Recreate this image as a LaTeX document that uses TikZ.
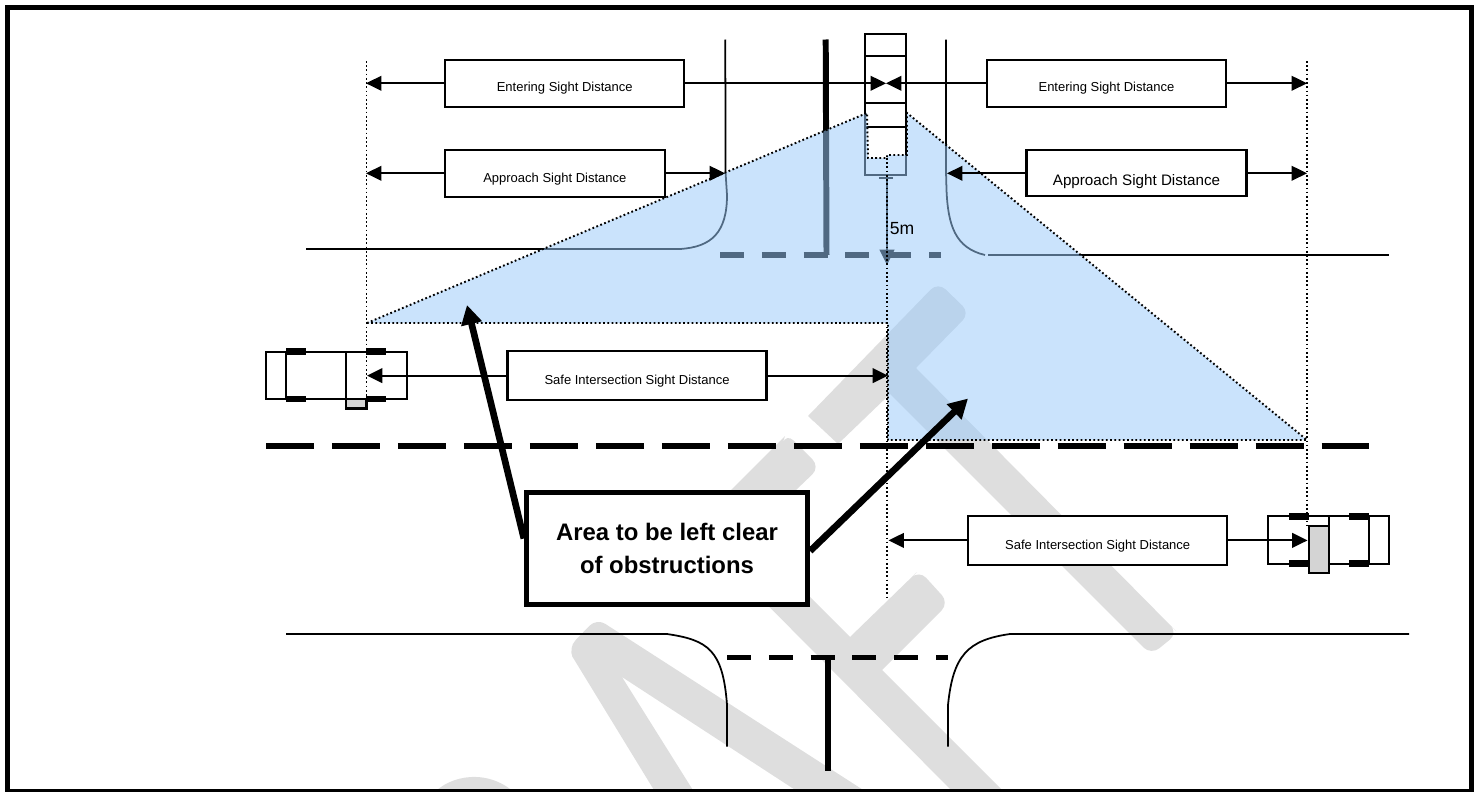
\documentclass[tikz,border=0pt]{standalone}
\usepackage{fontspec}
\setmainfont{Liberation Sans}
\usetikzlibrary{arrows.meta}
\definecolor{areablue}{RGB}{154,202,250}
\definecolor{wmgray}{RGB}{222,222,222}
\definecolor{padgray}{RGB}{212,212,212}

\begin{document}
\begin{tikzpicture}[x=0.02cm,y=-0.02cm,
  distbox/.style={draw,fill=white,line width=1.2pt,inner sep=0pt,font=\fontsize{7.4}{9}\selectfont,text height=9.8pt,text depth=0pt},
  dimline/.style={line width=1.05pt,-{Triangle[length=8.8pt,width=8.4pt]}},
  dotline/.style={line width=1.1pt,dash pattern=on 1pt off 1.4pt},
  roadline/.style={line width=1pt},
  carline/.style={line width=1.15pt},
  stopline/.style={line width=3.4pt,dash pattern=on 13.6pt off 10.2pt},
  centreline/.style={line width=3.4pt,dash pattern=on 27.35pt off 10.2pt},
  pointer/.style={line width=3.8pt,-{Triangle[length=11pt,width=11.5pt]}},
  wheel/.style={fill=black}]
\useasboundingbox (0,0) rectangle (1479,791);
%watermark
\fill[wmgray] (657,795) -- (572,656) [rounded corners=6pt] -- (568,648) -- (597,618) [sharp corners] -- (607,625) -- (871,795) -- (803,795) -- (622,677) -- (696,795) -- cycle;
\fill[wmgray] (692,529) -- (785,436) [rounded corners=6pt] -- (786,433) -- (820,467) [sharp corners] -- (748.5,535.5) -- (850,637) -- (917,572) [rounded corners=6pt] -- (919,570) -- (949,603) [sharp corners] -- (882,670) -- (1007,795) -- (956,795) -- cycle;
\fill[wmgray] (808,416) [rounded corners=6pt] -- (938,282) -- (970,313) [sharp corners] -- (916,368) -- (1176,631) [rounded corners=6pt] -- (1178,633) -- (1151,655) [sharp corners] -- (890,394) -- (838,444) [rounded corners=6pt] -- (806,414) [sharp corners] -- cycle;
\fill[wmgray] (432,795) .. controls (450,774) and (490,768) .. (517,795) -- cycle;
%road
\draw[roadline] (306,249) -- (680,249) .. controls (712,247) and (727,232) .. (727,195) -- (725.5,172) -- (725.3,39.5);
\draw[roadline] (946,39.5) -- (946,172) -- (946.5,190) .. controls (948,225) and (955,248) .. (985,255);
\draw[roadline] (988,255) -- (1389,255);
\draw[line width=3.4pt] (825.7,39.5) -- (826.5,255);
\draw[stopline] (720,255.3) -- (941,255.3);
\draw[roadline] (286,634) -- (667,634) .. controls (708,640) and (723,650) .. (727,705) -- (727,746.5);
\draw[roadline] (948,746.5) -- (948,705) .. controls (953,655) and (968,640) .. (1010,634) -- (1409,634);
\draw[line width=3.4pt] (827.5,658) -- (827.5,770.5);
\draw[stopline] (727,657.5) -- (948,657.5);
%top car and 5m
\draw[carline] (865,34) rectangle (906,175);
\draw[carline] (865,56) -- (906,56);
\draw[carline] (865,103) -- (906,103);
\draw[carline] (865,127) -- (906,127);
\fill (879,176.5) rectangle (893,179);
\draw[dimline] (887,178) -- (887,265);
%clear area
\draw[dotline,fill=areablue,fill opacity=0.52] (367,323) -- (867,113) -- (868,158) -- (887,158) -- (887,155) -- (907,155) -- (907,113) -- (1307,440) -- (888,440) -- (888,323) -- cycle;
\draw[dotline] (887,158) -- (887,598);
\draw[dotline] (366.5,61) -- (366.5,398);
\draw[dotline] (1307,61) -- (1307,526);
\draw[centreline] (266,445.7) -- (1369,445.7);
%left car
\draw[carline] (266,352) rectangle (407,399);
\draw[carline] (286,352) -- (286,399);
\draw[carline] (346,352) -- (346,399);
\draw[carline,fill=padgray] (346,399) rectangle (366.5,408.5);
\fill[wheel] (286,348) rectangle (306,355);
\fill[wheel] (286,396) rectangle (306,402);
\fill[wheel] (366,348) rectangle (386,355);
\fill[wheel] (366,396) rectangle (386,402);
%right car
\draw[carline] (1268,516) rectangle (1389,564);
\draw[carline] (1329,516) -- (1329,564);
\draw[carline] (1369,516) -- (1369,564);
\draw[carline,fill=padgray] (1308.5,526) rectangle (1329,573);
\fill[wheel] (1289,513) rectangle (1309,520);
\fill[wheel] (1289,560) rectangle (1309,567);
\fill[wheel] (1349,513) rectangle (1369,520);
\fill[wheel] (1349,560) rectangle (1369,567);
%distance boxes
\draw (564.7,83.3) node[distbox,minimum width=4.78cm,minimum height=0.94cm] (EL) {Entering Sight Distance}
(1106.5,83.3) node[distbox,minimum width=4.78cm,minimum height=0.94cm] (ER) {Entering Sight Distance}
(554.8,173.3) node[distbox,text height=10.8pt,minimum width=4.40cm,minimum height=0.94cm] (AL) {Approach Sight Distance}
(1136.5,173.3) node[distbox,font=\fontsize{8.65}{10}\selectfont,text height=14.4pt,minimum width=4.40cm,minimum height=0.92cm] (AR) {Approach Sight Distance}
(637,375.6) node[distbox,minimum width=5.18cm,minimum height=0.98cm] (SL) {Safe Intersection Sight Distance}
(1097.7,540.4) node[distbox,minimum width=5.18cm,minimum height=0.99cm] (SR) {Safe Intersection Sight Distance};
\coordinate (EA) at (366,83.3);
\coordinate (EB) at (886,83.3);
\coordinate (EC) at (1307,83.3);
\coordinate (AA) at (366,173.3);
\coordinate (AB) at (725,173.3);
\coordinate (AC) at (947,173.3);
\coordinate (AD) at (1307,173.3);
\coordinate (SA) at (367,375.6);
\coordinate (SB) at (888,375.6);
\coordinate (SC) at (888.5,540.4);
\coordinate (SD) at (1307.5,540.4);
%horizontal
\draw[dimline] (EL) -- (EA);
\draw[dimline] (EL) -- (EB);
\draw[dimline] (ER) -- (EB);
\draw[dimline] (ER) -- (EC);
\draw[dimline] (AL) -- (AA);
\draw[dimline] (AL) -- (AB);
\draw[dimline] (AR) -- (AC);
\draw[dimline] (AR) -- (AD);
\draw[dimline] (SL) -- (SA);
\draw[dimline] (SL) -- (SB);
\draw[dimline] (SR) -- (SC);
\draw[dimline] (SR) -- (SD);
%labels
\draw (902,228.5) node[inner sep=0pt,font=\fontsize{10}{12}\selectfont] (H) {5m};
\coordinate (PL) at (467,305);
\coordinate (PR) at (968,398.5);
\draw (667,548.5) node[draw,fill=white,line width=3pt,inner sep=0pt,align=center,minimum width=5.62cm,minimum height=2.24cm,font=\fontsize{13.6}{18.9}\bfseries\selectfont] (C) {Area to be left clear\\of obstructions};
\draw[pointer] (C.176) -- (PL);
\draw[pointer] (C.-1.4) -- (PR);
%frame
\draw[line width=3.2pt] (7.5,7.5) rectangle (1471.5,792);
\end{tikzpicture}
\end{document}
